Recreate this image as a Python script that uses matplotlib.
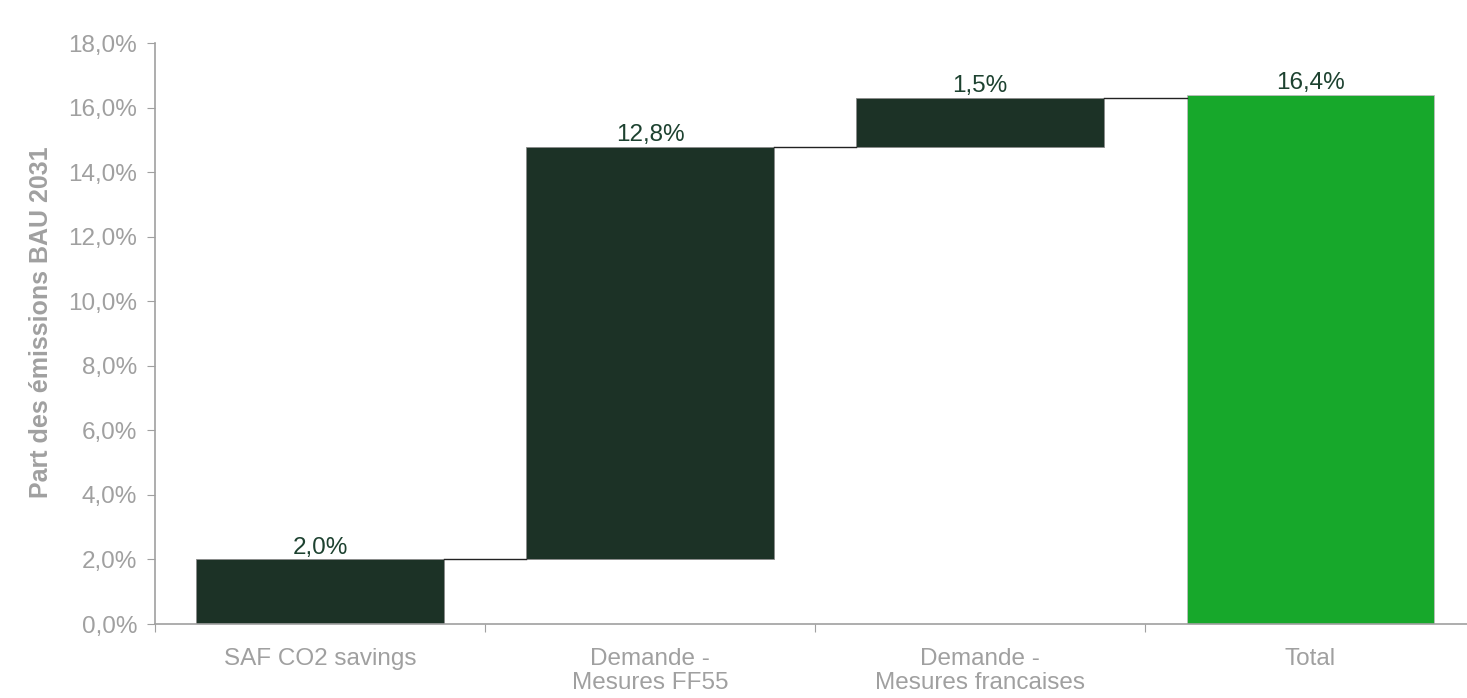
import matplotlib.pyplot as plt
from matplotlib.ticker import FuncFormatter

plt.rcParams['font.family'] = ['Liberation Sans', 'DejaVu Sans']

categories = ['SAF CO2 savings', 'Demande -\nMesures FF55', 'Demande -\nMesures francaises', 'Total']
steps = [2.0, 12.8, 1.5]
total = 16.4
labels = ['2,0%', '12,8%', '1,5%', '16,4%']

dark = '#1c3226'
green = '#17a82b'
grey = '#a0a0a0'
label_col = '#1d4230'

fig = plt.figure(figsize=(14.67, 6.98), dpi=100)
ax = fig.add_axes([0.1057, 0.106, 0.9, 0.832])

width = 0.75
bottoms = []
run = 0.0
for v in steps:
    bottoms.append(run)
    run += v

for i, (b, v) in enumerate(zip(bottoms, steps)):
    ax.bar(i, v, bottom=b, width=width, color=dark, edgecolor='#8a8a8a', linewidth=0.6)
    ax.text(i, b + v + 0.03, labels[i], ha='center', va='bottom', fontsize=17.5, color=label_col)

ax.bar(3, total, width=width, color=green, edgecolor='#bdbdbd', linewidth=0.6)
ax.text(3, total + 0.03, labels[3], ha='center', va='bottom', fontsize=17.5, color=label_col)

# connectors between consecutive bars
tops = [b + v for b, v in zip(bottoms, steps)]
for i, t in enumerate(tops):
    ax.plot([i + width / 2, i + 1 - width / 2], [t, t], color='#222222', lw=1)

ax.set_xlim(-0.5, 3.5)
ax.set_ylim(0, 18)
ax.set_yticks(range(0, 19, 2))
ax.yaxis.set_major_formatter(FuncFormatter(lambda y, _: f'{y:.1f}%'.replace('.', ',')))
ax.set_xticks([-0.5, 0.5, 1.5, 2.5])
ax.set_xticklabels([])
ax.set_xticks(range(4), minor=True)
ax.set_xticklabels(categories, minor=True, fontsize=17.5, color=grey, linespacing=1.15)
ax.tick_params(axis='x', which='minor', length=0, pad=17)
ax.tick_params(axis='x', which='major', length=6, color=grey)
ax.tick_params(axis='y', labelsize=17.5, labelcolor=grey, color=grey, length=6, pad=7)

for s in ['top', 'right']:
    ax.spines[s].set_visible(False)
for s in ['left', 'bottom']:
    ax.spines[s].set_color(grey)
    ax.spines[s].set_linewidth(1.2)

ax.set_ylabel('Part des émissions BAU 2031', fontsize=18, color=grey, fontweight='bold')
ax.yaxis.set_label_coords(-0.077, 0.52)

fig.savefig('out.png', dpi=100)
